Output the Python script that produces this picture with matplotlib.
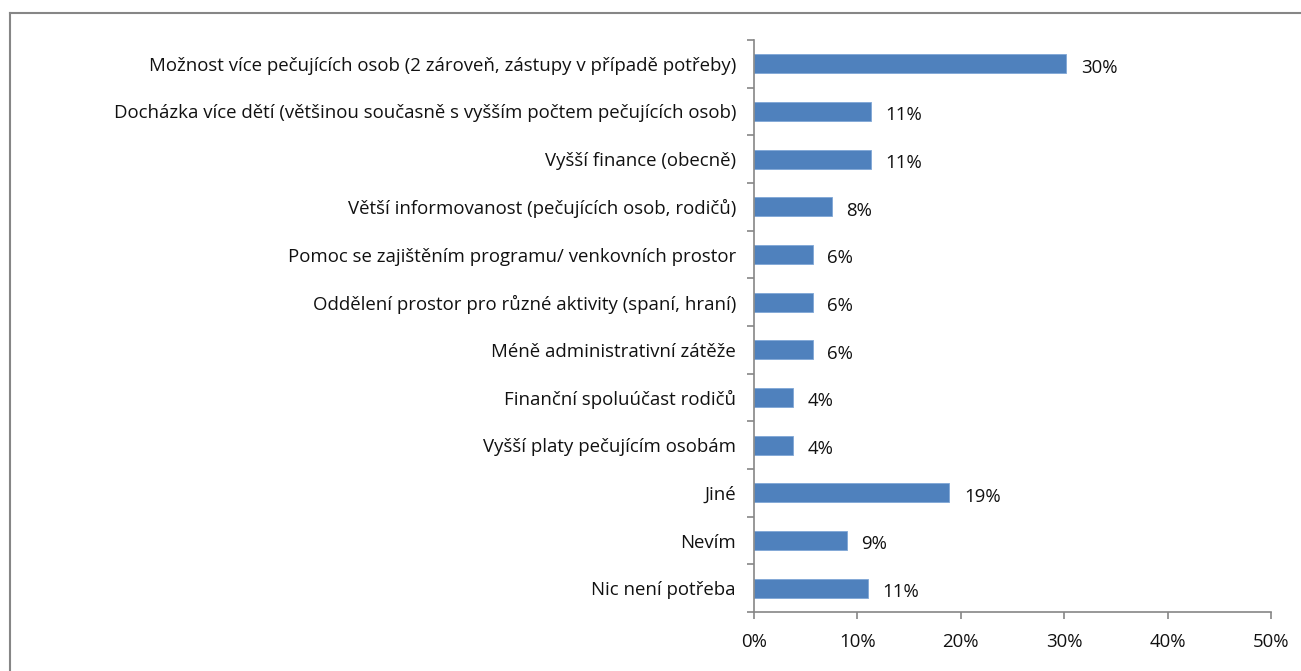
import matplotlib
matplotlib.use("Agg")
import matplotlib.pyplot as plt
from matplotlib.lines import Line2D
import numpy as np

categories = [
    "Možnost více pečujících osob (2 zároveň, zástupy v případě potřeby)",
    "Docházka více dětí (většinou současně s vyšším počtem pečujících osob)",
    "Vyšší finance (obecně)",
    "Větší informovanost (pečujících osob, rodičů)",
    "Pomoc se zajištěním programu/ venkovních prostor",
    "Oddělení prostor pro různé aktivity (spaní, hraní)",
    "Méně administrativní zátěže",
    "Finanční spoluúčast rodičů",
    "Vyšší platy pečujícím osobám",
    "Jiné",
    "Nevím",
    "Nic není potřeba",
]
values = [30.2, 11.3, 11.3, 7.5, 5.7, 5.7, 5.7, 3.8, 3.8, 18.9, 9.0, 11.0]
value_labels = ["30%", "11%", "11%", "8%", "6%", "6%", "6%", "4%", "4%", "19%", "9%", "11%"]
xticks = [0, 10, 20, 30, 40, 50]
xtick_labels = ["0%", "10%", "20%", "30%", "40%", "50%"]

plt.rcParams['font.family'] = ['Open Sans', 'DejaVu Sans']
FS = 13.4
W, H = 1301, 671
fig = plt.figure(figsize=(W / 100, H / 100), dpi=100)
ax = fig.add_axes([754 / W, 1 - 612 / H, (1271 - 754) / W, (612 - 40) / H])

n = len(categories)
y = np.arange(n)
ax.barh(y, values, height=0.4, color="#4F81BD", edgecolor="#7FA6D6", linewidth=0.6)
ax.set_ylim(n - 0.5, -0.5)
ax.set_xlim(0, 50)

ax.set_yticks(y)
ax.set_yticklabels(categories, fontsize=FS, color="#111111")
ax.tick_params(axis='y', length=0, pad=13)
ax.set_yticks(np.arange(-0.5, n, 1), minor=True)
ax.tick_params(axis='y', which='minor', length=5, width=1.2, color="#868686", direction='out')

ax.set_xticks(xticks)
ax.set_xticklabels(xtick_labels, fontsize=FS, color="#111111")
ax.tick_params(axis='x', length=5, width=1.2, color="#868686", direction='out', pad=10)

for s in ['top', 'right']:
    ax.spines[s].set_visible(False)
for s in ['left', 'bottom']:
    ax.spines[s].set_color("#868686")
    ax.spines[s].set_linewidth(1.2)

for yi, v, lab in zip(y, values, value_labels):
    ax.text(v + 1.4, yi + 0.08, lab, va='center', ha='left', fontsize=FS, color="#111111")

bc = "#868686"
fig.add_artist(Line2D([10 / W, 10 / W], [0, 1 - 13 / H], transform=fig.transFigure, color=bc, lw=1.5))
fig.add_artist(Line2D([10 / W, 1], [1 - 13 / H, 1 - 13 / H], transform=fig.transFigure, color=bc, lw=1.5))

fig.savefig("out.png", dpi=100, facecolor="white")
